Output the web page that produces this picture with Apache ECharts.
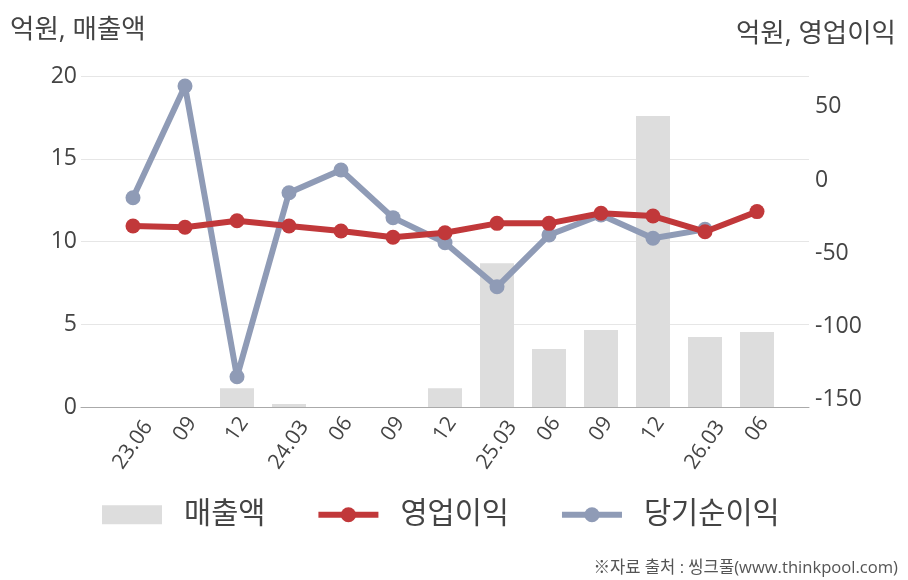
<!DOCTYPE html>
<html>
<head>
<meta charset="utf-8">
<script src="https://cdn.jsdelivr.net/npm/echarts@6/dist/echarts.min.js"></script>
<style>
html,body{margin:0;padding:0;background:#fff;}
#chart{width:908px;height:580px;}
</style>
</head>
<body>
<div id="chart"></div>
<script>
const categories = ['23.06','09','12','24.03','06','09','12','25.03','06','09','12','26.03','06'];
const sales = [0, 0, 1.13, 0.18, 0, 0, 1.13, 8.68, 3.5, 4.65, 17.58, 4.23, 4.53];
const operatingProfit = [-31.4, -32.3, -27.8, -31.4, -34.8, -39.1, -36.0, -29.6, -29.6, -22.7, -24.6, -35.3, -21.6];
const netProfit = [-12.1, 64.2, -134.3, -8.7, 6.8, -25.7, -42.8, -72.9, -37.6, -23.9, -39.8, -33.7, null];
const leftTicks = [0, 5, 10, 15, 20];
const rightTicks = [-150, -100, -50, 0, 50];

const FONT = "'Open Sans','Noto Sans CJK KR',sans-serif";
const pad = a => [null].concat(a, [null]);
const labelBase = {fontSize: 21, color: '#444', fontFamily: FONT};

const chart = echarts.init(document.getElementById('chart'), null, {renderer: 'canvas'});
chart.setOption({
  animation: false,
  backgroundColor: '#ffffff',
  textStyle: {fontFamily: FONT},
  title: [
    {text: '억원, 매출액', left: 5, top: 12, textStyle: {fontSize: 26.5, fontWeight: 'normal', color: '#444', fontFamily: FONT}},
    {text: '억원, 영업이익', right: 7, top: 16, textStyle: {fontSize: 26.5, fontWeight: 'normal', color: '#444', fontFamily: FONT}},
    {text: '※자료 출처 : 씽크풀(www.thinkpool.com)', right: 5, top: 555, textStyle: {fontSize: 16.6, fontWeight: 'normal', color: '#555', fontFamily: FONT}}
  ],
  legend: {
    left: 97,
    top: 495,
    itemWidth: 60,
    itemHeight: 19,
    itemGap: 50,
    textStyle: {fontSize: 29.5, color: '#444', fontFamily: FONT, padding: [0, 0, 0, 17]},
    data: [
      {name: '매출액', icon: 'rect'},
      {name: '영업이익', lineStyle: {width: 6, color: '#c1383a'}},
      {name: '당기순이익', lineStyle: {width: 6, color: '#8f9bb6'}}
    ]
  },
  grid: {left: 81, right: 99, top: 76, bottom: 173, containLabel: false},
  xAxis: {
    type: 'category',
    boundaryGap: false,
    data: [''].concat(categories, ['']),
    axisLine: {lineStyle: {color: '#aaaaaa', width: 1}},
    axisTick: {show: false},
    axisLabel: {
      interval: 0,
      rotate: 55,
      margin: 22,
      align: 'center',
      verticalAlign: 'middle',
      formatter: v => v === '' ? '' : (v.length > 2 ? '{l|' + v + '}' : '{s|' + v + '}'),
      rich: {
        l: Object.assign({padding: [18, 26, 0, 0]}, labelBase),
        s: Object.assign({padding: [0, 0, 0, 0]}, labelBase)
      },
      fontSize: 21,
      color: '#444',
      fontFamily: FONT
    },
    splitLine: {show: false}
  },
  yAxis: [
    {
      type: 'value',
      min: leftTicks[0],
      max: leftTicks[leftTicks.length - 1],
      interval: 5,
      axisLine: {show: false},
      axisTick: {show: false},
      axisLabel: {fontSize: 23, color: '#444', margin: 4, fontFamily: FONT},
      splitLine: {lineStyle: {color: '#e6e6e6', width: 1}}
    },
    {
      type: 'value',
      min: -155,
      max: 71,
      splitNumber: 5,
      position: 'right',
      axisLine: {show: false},
      axisTick: {show: false},
      axisLabel: {
        fontSize: 23, color: '#444', margin: 6, fontFamily: FONT,
        formatter: v => rightTicks.indexOf(Math.round(v)) >= 0 && Math.abs(v - Math.round(v)) < 1e-6 ? String(Math.round(v)) : ''
      },
      splitLine: {show: false}
    }
  ],
  series: [
    {
      name: '매출액',
      type: 'bar',
      yAxisIndex: 0,
      barWidth: 34,
      data: pad(sales),
      itemStyle: {color: '#dddddd'},
      z: 1
    },
    {
      name: '당기순이익',
      type: 'line',
      yAxisIndex: 1,
      data: pad(netProfit),
      symbol: 'circle',
      symbolSize: 15,
      lineStyle: {color: '#8f9bb6', width: 6},
      itemStyle: {color: '#8f9bb6'},
      z: 3
    },
    {
      name: '영업이익',
      type: 'line',
      yAxisIndex: 1,
      data: pad(operatingProfit),
      symbol: 'circle',
      symbolSize: 15,
      lineStyle: {color: '#c1383a', width: 6},
      itemStyle: {color: '#c1383a'},
      z: 4
    }
  ]
});
</script>
</body>
</html>
